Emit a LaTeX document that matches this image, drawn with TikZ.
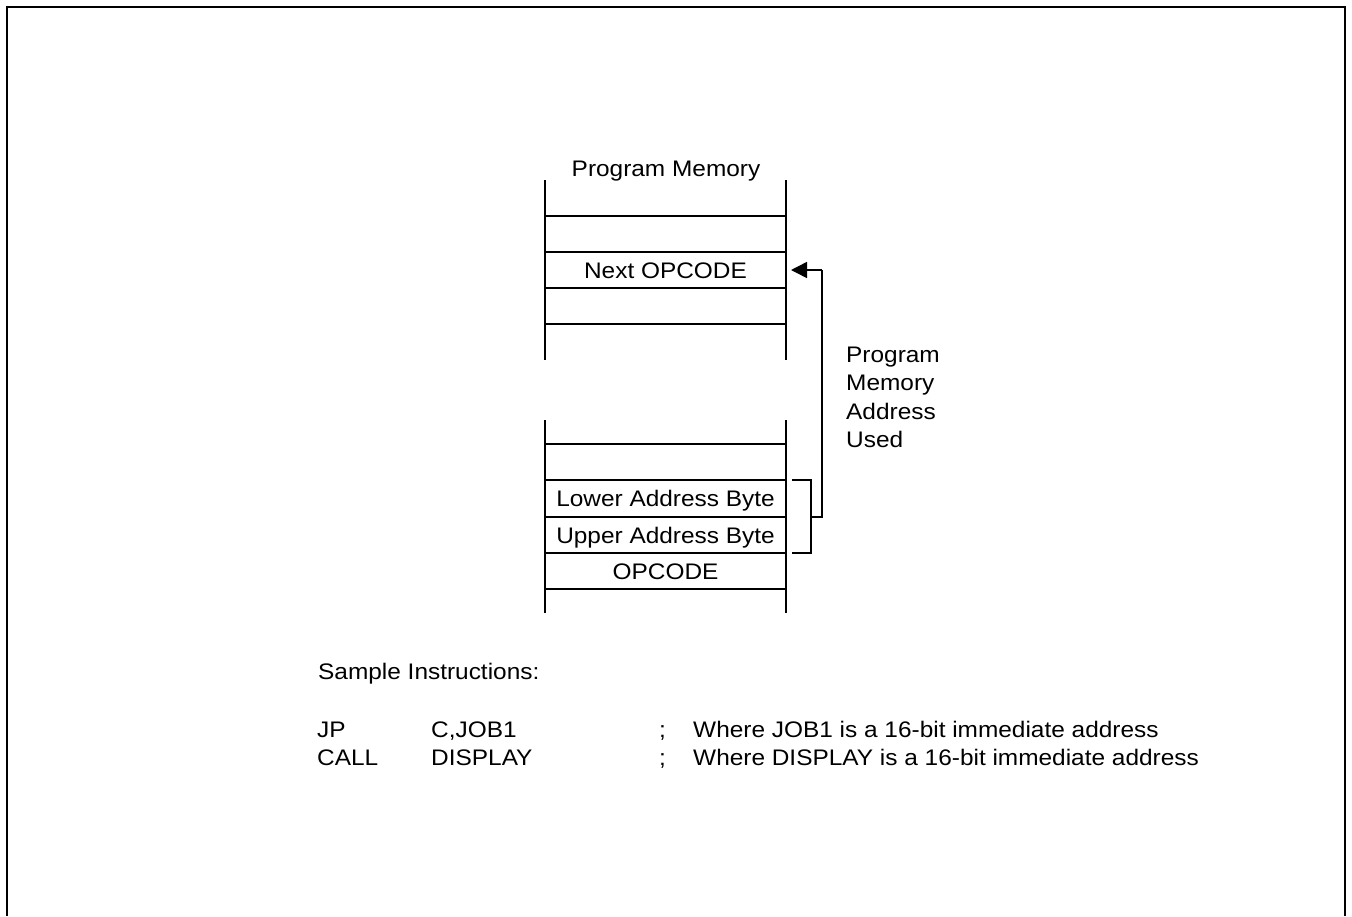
\documentclass[tikz,border=0pt]{standalone}
\usepackage{fontspec}
\setmainfont{Liberation Sans}[FakeStretch=1.085]
\usetikzlibrary{arrows.meta}
\begin{document}
\begin{tikzpicture}[x=1pt,y=-1pt,
  lbl/.style={font=\fontsize{22.5}{28.5}\selectfont, inner sep=0pt},
  memline/.style={line width=1.8pt},
  brk/.style={line width=1.5pt},
  frame/.style={line width=2.4pt}]
\useasboundingbox (0,0) rectangle (1352,916);
% outer frame (open at the bottom)
\draw[frame] (7,916) -- (7,7) -- (1345,7) -- (1345,916);

% upper memory column
\draw[memline] (545,180) -- (545,360) (786,180) -- (786,360);
\foreach \y in {216,252,288,324} \draw[memline] (545,\y) -- (786,\y);
% lower memory column
\draw[memline] (545,420) -- (545,613) (786,420) -- (786,613);
\foreach \y in {444,480,517,553,589} \draw[memline] (545,\y) -- (786,\y);

% labels
\node[lbl, anchor=base] (title) at (666,176) {Program Memory};
\node[lbl, anchor=base] (next) at (665.5,278) {Next OPCODE};
\node[lbl, anchor=base] (lower) at (665.5,506) {Lower Address Byte};
\node[lbl, anchor=base] (upper) at (665.5,543) {Upper Address Byte};
\node[lbl, anchor=base] (opc) at (665.5,579) {OPCODE};
\node[lbl, anchor=base west] (pma1) at (846,362) {Program};
\node[lbl, anchor=base west] (pma2) at (846,390) {Memory};
\node[lbl, anchor=base west] (pma3) at (846,419) {Address};
\node[lbl, anchor=base west] (pma4) at (846,447) {Used};

% bracket and arrow
\coordinate (bt) at (792,480);
\coordinate (bb) at (792,553);
\coordinate (bm) at (811,517);
\coordinate (turn) at (822,517);
\coordinate (up) at (822,270);
\coordinate (tip) at (791,270);
\draw[brk] (bt) -- (811,480) -- (811,553) -- (bb);
\draw[brk] (bm) -- (turn) -- (up);
\draw[brk, -{Triangle[length=16pt,width=16pt]}] (up) -- (tip);

% sample instructions
\node[lbl, anchor=base west] (si) at (318,679) {Sample Instructions:};
\node[lbl, anchor=base west] (jp) at (317,737) {JP};
\node[lbl, anchor=base west] (jpa) at (431,737) {C,JOB1};
\node[lbl, anchor=base west] (jps) at (659,737) {;};
\node[lbl, anchor=base west] (jpc) at (693,737) {Where JOB1 is a 16-bit immediate address};
\node[lbl, anchor=base west] (cl) at (317,765) {CALL};
\node[lbl, anchor=base west] (cla) at (431,765) {DISPLAY};
\node[lbl, anchor=base west] (cls) at (659,765) {;};
\node[lbl, anchor=base west] (clc) at (693,765) {Where DISPLAY is a 16-bit immediate address};
\end{tikzpicture}
\end{document}
